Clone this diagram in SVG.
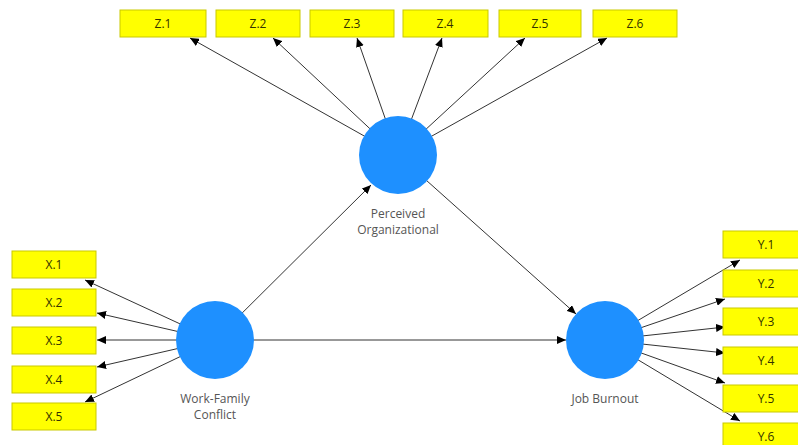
<svg xmlns="http://www.w3.org/2000/svg" width="798" height="445" viewBox="0 0 798 445">
  <style>
    .ind rect { fill: #ffff00; stroke: #c9c900; stroke-width: 1; }
    .ind text { font-family: "Open Sans", "Noto Sans", sans-serif; font-size: 12px; fill: #333300; text-anchor: middle; }
    .lv circle { fill: #1e90ff; }
    .lv text { font-family: "Open Sans", "Noto Sans", sans-serif; font-size: 12px; fill: #555555; text-anchor: middle; }
    .edge { stroke: #333333; stroke-width: 1; fill: none; marker-end: url(#arrow); }
  </style>
  <defs>
    <marker id="arrow" markerWidth="10" markerHeight="8" refX="9" refY="4" orient="auto" markerUnits="userSpaceOnUse">
      <path d="M0,0 L9,4 L0,8 z" fill="#000"/>
    </marker>
  </defs>

  <rect width="798" height="445" fill="#ffffff"/>

  <!-- connectors -->
  <g id="connectors">
    <!-- Perceived Organizational -> Z indicators -->
    <line class="edge" x1="398" y1="155" x2="190" y2="38"/>
    <line class="edge" x1="398" y1="155" x2="273" y2="38"/>
    <line class="edge" x1="398" y1="155" x2="357" y2="38"/>
    <line class="edge" x1="398" y1="155" x2="442" y2="38"/>
    <line class="edge" x1="398" y1="155" x2="525" y2="38"/>
    <line class="edge" x1="398" y1="155" x2="607" y2="38"/>
    <!-- Work-Family Conflict -> X indicators -->
    <line class="edge" x1="215" y1="340" x2="85" y2="280"/>
    <line class="edge" x1="215" y1="340" x2="97" y2="313"/>
    <line class="edge" x1="215" y1="340" x2="97" y2="340"/>
    <line class="edge" x1="215" y1="340" x2="97" y2="367"/>
    <line class="edge" x1="215" y1="340" x2="85" y2="402"/>
    <!-- Job Burnout -> Y indicators -->
    <line class="edge" x1="605" y1="340" x2="740" y2="260"/>
    <line class="edge" x1="605" y1="340" x2="725" y2="299"/>
    <line class="edge" x1="605" y1="340" x2="725" y2="327"/>
    <line class="edge" x1="605" y1="340" x2="725" y2="353"/>
    <line class="edge" x1="605" y1="340" x2="725" y2="383"/>
    <line class="edge" x1="605" y1="340" x2="740" y2="421"/>
    <!-- structural paths -->
    <line class="edge" x1="215" y1="340" x2="371" y2="185"/>
    <line class="edge" x1="215" y1="340" x2="566" y2="340"/>
    <line class="edge" x1="398" y1="155" x2="576" y2="314"/>
  </g>

  <!-- latent variables -->
  <g id="perceived-organizational" class="lv">
    <circle cx="398" cy="155" r="39"/>
    <text x="398" y="218">Perceived</text>
    <text x="398" y="234">Organizational</text>
  </g>
  <g id="work-family-conflict" class="lv">
    <circle cx="215" cy="340" r="39"/>
    <text x="215" y="403">Work-Family</text>
    <text x="215" y="419">Conflict</text>
  </g>
  <g id="job-burnout" class="lv">
    <circle cx="605" cy="340" r="39"/>
    <text x="605" y="403">Job Burnout</text>
  </g>

  <!-- Z indicators -->
  <g id="z1" class="ind"><rect x="120" y="10" width="86" height="27"/><text x="163" y="28">Z.1</text></g>
  <g id="z2" class="ind"><rect x="216" y="10" width="84" height="27"/><text x="258" y="28">Z.2</text></g>
  <g id="z3" class="ind"><rect x="310" y="10" width="84" height="27"/><text x="352" y="28">Z.3</text></g>
  <g id="z4" class="ind"><rect x="403" y="10" width="85" height="27"/><text x="445" y="28">Z.4</text></g>
  <g id="z5" class="ind"><rect x="499" y="10" width="82" height="27"/><text x="540" y="28">Z.5</text></g>
  <g id="z6" class="ind"><rect x="593" y="10" width="84" height="27"/><text x="635" y="28">Z.6</text></g>

  <!-- X indicators -->
  <g id="x1" class="ind"><rect x="12" y="251" width="84" height="27"/><text x="54" y="269">X.1</text></g>
  <g id="x2" class="ind"><rect x="12" y="289" width="84" height="27"/><text x="54" y="307">X.2</text></g>
  <g id="x3" class="ind"><rect x="12" y="327" width="84" height="27"/><text x="54" y="345">X.3</text></g>
  <g id="x4" class="ind"><rect x="12" y="366" width="84" height="27"/><text x="54" y="384">X.4</text></g>
  <g id="x5" class="ind"><rect x="12" y="403" width="84" height="27"/><text x="54" y="421">X.5</text></g>

  <!-- Y indicators -->
  <g id="y1" class="ind"><rect x="723" y="231" width="85" height="27"/><text x="766" y="249">Y.1</text></g>
  <g id="y2" class="ind"><rect x="723" y="270" width="85" height="27"/><text x="766" y="288">Y.2</text></g>
  <g id="y3" class="ind"><rect x="723" y="308" width="85" height="27"/><text x="766" y="326">Y.3</text></g>
  <g id="y4" class="ind"><rect x="723" y="347" width="85" height="27"/><text x="766" y="365">Y.4</text></g>
  <g id="y5" class="ind"><rect x="723" y="385" width="85" height="27"/><text x="766" y="403">Y.5</text></g>
  <g id="y6" class="ind"><rect x="723" y="423" width="85" height="27"/><text x="766" y="441">Y.6</text></g>
</svg>
